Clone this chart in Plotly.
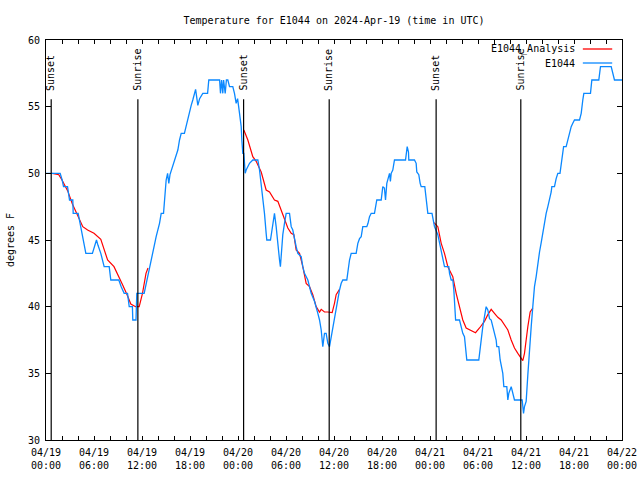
import pandas as pd
import plotly.graph_objects as go

BASE = pd.Timestamp("2024-04-19 00:00")

# Observed E1044 temperature (hours since 2024-04-19 00:00 UTC, degrees F)
obs_hours = [0, 1.77, 2.02, 2.19, 2.69, 2.85, 2.94, 3.35, 3.4, 4.02, 4.35, 4.69, 4.98, 5.8, 6.1, 6.31, 6.5, 6.85,
             7.27, 7.9, 8.1, 9.1, 9.4, 9.77, 10.19, 10.4, 10.8, 10.85, 11.25, 11.35, 12.27, 12.52, 13.15, 13.3,
             13.77, 14.19, 14.4, 14.69, 14.81, 15.02, 15.2, 15.35, 15.5, 15.85, 16.06, 16.48, 16.69, 16.9, 17.3,
             17.52, 17.73, 17.94, 18.15, 18.35, 18.56, 18.7, 18.98, 19.2, 19.6, 20.2, 20.35, 21.7, 21.81, 21.95,
             22.1, 22.2, 22.4, 22.55, 22.73, 22.94, 23.35, 23.56, 23.77, 23.95, 24.19, 24.4, 24.48, 24.6, 24.73,
             24.9, 25.02, 25.44, 25.85, 26.48, 26.69, 26.9, 27.1, 27.31, 27.52, 27.6, 28.06, 28.35, 28.56, 28.77,
             28.98, 29.19, 29.3, 29.6, 29.81, 30.02, 30.44, 30.65, 30.85, 31.06, 31.27, 31.48, 31.9, 32.1, 32.31,
             32.73, 32.94, 33.15, 33.56, 33.77, 33.98, 34.19, 34.4, 34.6, 34.81, 35.02, 35.23, 35.44, 35.65, 35.85,
             36.06, 36.27, 36.48, 36.69, 36.9, 37.1, 37.6, 37.73, 37.94, 38.15, 38.77, 38.98, 39.19, 39.4, 39.6,
             40.1, 40.25, 40.44, 40.65, 41.06, 41.27, 41.35, 41.9, 42.1, 42.3, 42.44, 42.6, 42.77, 42.94, 43.05,
             43.15, 43.35, 43.56, 44.94, 45.02, 45.15, 45.31, 45.35, 46.06, 46.27, 46.35, 46.6, 46.77, 46.9, 47.35,
             47.52, 47.73, 48.25, 48.4, 48.56, 48.98, 49.19, 49.4, 49.6, 49.81, 50.35, 50.44, 50.65, 50.85, 50.98,
             51.15, 51.2, 51.69, 51.9, 52.1, 52.31, 52.44, 52.6, 54.1, 54.19, 54.4, 54.6, 54.81, 55.02, 55.23,
             55.44, 55.65, 55.85, 56.06, 56.27, 56.35, 56.6, 56.77, 56.9, 57.1, 57.23, 57.6, 57.73, 57.85, 58.15,
             58.35, 58.56, 59.52, 59.69, 59.81, 60.02, 60.23, 60.44, 60.65, 60.85, 61.06, 61.27, 61.48, 61.69,
             61.9, 62.1, 62.31, 62.52, 62.73, 62.94, 63.15, 63.23, 63.56, 63.77, 63.98, 64.25, 64.4, 64.6, 64.7,
             65.02, 65.23, 65.44, 65.65, 65.85, 66.06, 66.69, 66.9, 67.1, 67.23, 68.06, 68.23, 69.1, 69.31, 70.65,
             70.85, 71.06, 72]
obs_temp = [50, 50, 49.5, 49, 49, 48.5, 48, 48, 47, 47, 46, 45, 44, 44, 44.6, 45, 44.6, 44,
            43, 43, 42, 42, 41.5, 41, 41, 40, 40, 39, 39, 41, 41, 41.75, 43.6, 44,
            45.25, 46.25, 47, 47, 48, 49.5, 50, 49.25, 49.9, 50.5, 51, 51.75, 52.5, 53, 53,
            53.6, 54.1, 54.5, 55.1, 55.5, 56, 56.3, 55.1, 55.6, 56, 56, 57, 57, 56, 57,
            56, 57, 56, 57, 57, 56.5, 56.5, 56, 55.25, 55.6, 54.5, 53.5, 52.5, 51.5, 51.5,
            50.0, 50.25, 50.75, 51, 51, 50.25, 49.25, 48, 47, 45.5, 45, 45, 46, 47, 46,
            44.5, 43.5, 43, 45.4, 46.25, 47, 47, 46, 45.75, 45, 44.5, 44, 43.75, 43, 42.5,
            42, 41.5, 41, 40.4, 40, 39.5, 39, 38.25, 37, 38, 38, 37.25, 37, 37.75, 38.25,
            39.25, 40, 40.75, 41.25, 41.75, 42, 42, 42.75, 43.5, 44, 44, 44.75, 45.1, 45.25, 46,
            46, 46.25, 46.75, 47, 47, 47.75, 48, 48, 49, 48.9, 48, 49.25, 49.6, 50, 49.4,
            50, 50.25, 51, 51, 51.6, 52, 51.6, 51, 51, 50.75, 50.1, 49.9, 49.25, 49, 49,
            48.25, 47, 47, 46.6, 46, 45.4, 44.75, 44, 43.5, 43, 43, 42.5, 42, 42, 41.25,
            39.75, 39, 39, 38.4, 38, 37.75, 37, 36, 36, 36.5, 37.75, 38.5, 39.25, 40, 39.75,
            39.1, 39, 38.5, 38, 37.5, 37, 37, 36, 35.5, 35, 34, 34, 33, 33.5, 34,
            33.6, 33, 33, 32, 32.5, 32.9, 34.9, 37, 38.5, 40, 41.5, 42.25, 43.25, 44.1,
            44.8, 45.6, 46.4, 47, 47.5, 48, 48.6, 49, 49, 49.6, 50, 50, 50.6, 51.5, 52,
            52, 52.5, 53.05, 53.5, 53.75, 54, 54, 54.5, 55.5, 56, 56, 57, 57, 58, 58,
            57.6, 57, 57]

# Overnight analysis (three nights)
ana1_hours = [0.8, 1.6, 2.0, 2.7, 3.3, 3.9, 4.6, 5.2, 6.0, 6.85, 7.27, 7.7, 8.5, 9.1, 9.6, 10.2, 10.6, 11.2,
              11.65, 12.06, 12.5, 12.75]
ana1_temp = [50, 49.9, 49.5, 48.7, 47.7, 46.9, 46, 45.75, 45.5, 45.05, 44.25, 43.5, 43, 42.3, 41.6, 40.8, 40.2,
             40, 40, 41, 42.5, 42.9]
ana2_hours = [24.73, 25.23, 25.85, 26.27, 26.9, 27.31, 27.52, 27.94, 28.56, 28.98, 29.4, 29.81, 30.23, 30.65,
              30.98, 31.27, 31.69, 32.1, 32.52, 32.94, 33.35, 33.77, 34.19, 34.4, 34.81, 35.23, 35.77, 36.06,
              36.27, 36.69]
ana2_temp = [53.25, 52.5, 51.25, 50.9, 50.1, 49.25, 48.75, 48.6, 48, 47.9, 47.25, 46.5, 45.9, 45.5, 45.4, 44.25,
             44, 43, 41.75, 41.5, 40.9, 40, 39.6, 39.8, 39.6, 39.6, 39.55, 40.25, 40.9, 41.3]
ana3_hours = [48.5, 48.98, 49.4, 49.81, 50.23, 50.65, 50.85, 51.27, 51.69, 52.1, 52.52, 53.15, 53.69, 54.19,
              54.81, 55.23, 55.65, 56.06, 56.48, 56.9, 57.31, 57.73, 58.15, 58.56, 58.98, 59.4, 59.6, 59.81,
              60.02, 60.23, 60.52, 60.85]
ana3_temp = [46.3, 46, 44.75, 44, 43, 42.5, 42.25, 41, 40, 39, 38.4, 38.2, 38.05, 38.4, 38.9, 39.4, 39.8, 39.5,
             39.2, 39, 38.6, 38.25, 37.5, 36.9, 36.5, 36.1, 35.95, 36.5, 37.75, 38.5, 39.6, 39.9]

sun_times = ["2024-04-19 00:39", "2024-04-19 11:29", "2024-04-20 00:42",
             "2024-04-20 11:24", "2024-04-21 00:46", "2024-04-21 11:21"]
sun_labels = ["Sunset", "Sunrise", "Sunset", "Sunrise", "Sunset", "Sunrise"]

tick_times = pd.date_range("2024-04-19 00:00", "2024-04-22 00:00", freq="6h")
tick_text = [t.strftime("%m/%d") + "<br>" + t.strftime("%H:%M") for t in tick_times]


def to_time(hours):
    return BASE + pd.to_timedelta(hours, unit="h")


FONT = "DejaVu Sans Mono"
RED = "#ff0000"
BLUE = "#0a88ff"

fig = go.Figure()
for i, (h, v) in enumerate([(ana1_hours, ana1_temp), (ana2_hours, ana2_temp), (ana3_hours, ana3_temp)]):
    fig.add_trace(go.Scatter(x=to_time(h), y=v, mode="lines", name="E1044_Analysis",
                             line=dict(color=RED, width=1.2), showlegend=False))
fig.add_trace(go.Scatter(x=to_time(obs_hours), y=obs_temp, mode="lines", name="E1044",
                         line=dict(color=BLUE, width=1.3), showlegend=False))

for t, lab in zip(sun_times, sun_labels):
    fig.add_shape(type="line", x0=t, x1=t, xref="x", yref="paper", y0=0, y1=0.852,
                  line=dict(color="black", width=1.2))
    fig.add_annotation(x=t, y=0.868, xref="x", yref="paper", text=lab, textangle=-90,
                       showarrow=False, xanchor="center", yanchor="bottom",
                       font=dict(family=FONT, size=10, color="black"))

# legend (text left of sample line, gnuplot style)
for name, col, yp in [("E1044_Analysis", RED, 0.9775), ("E1044", BLUE, 0.9425)]:
    fig.add_annotation(x=0.922, y=yp, xref="paper", yref="paper", text=name, showarrow=False,
                       xanchor="right", yanchor="middle", font=dict(family=FONT, size=10, color="black"))
    fig.add_shape(type="line", xref="paper", yref="paper", x0=0.932, x1=0.983, y0=yp, y1=yp,
                  line=dict(color=col, width=1.3))

fig.update_layout(
    width=640, height=480,
    margin=dict(l=46, r=18, t=40, b=40, autoexpand=False),
    paper_bgcolor="white", plot_bgcolor="white",
    font=dict(family=FONT, size=10, color="black"),
    title=dict(text="Temperature for E1044 on 2024-Apr-19 (time in UTC)", x=0.5, xref="paper",
               y=1 - 20 / 480, yref="container", yanchor="middle", xanchor="center",
               font=dict(family=FONT, size=10, color="black")),
    showlegend=False,
)
fig.update_xaxes(
    type="date", range=["2024-04-19 00:00", "2024-04-22 00:00"],
    tickvals=list(tick_times), ticktext=tick_text, automargin=False,
    ticks="inside", ticklen=4, tickcolor="black", tickwidth=1, ticklabelstandoff=3,
    minor=dict(dtick=2 * 3600 * 1000, ticks="inside", ticklen=4, tickcolor="black", showgrid=False),
    showline=True, linecolor="black", linewidth=1, mirror="ticks", showgrid=False, zeroline=False,
    tickfont=dict(family=FONT, size=10, color="black"),
)
fig.update_yaxes(
    range=[30, 60], dtick=5, tick0=30, automargin=False,
    ticks="inside", ticklen=5, tickcolor="black", tickwidth=1, ticklabelstandoff=3,
    showline=True, linecolor="black", linewidth=1, mirror="ticks", showgrid=False, zeroline=False,
    title=dict(text="degrees F", font=dict(family=FONT, size=10, color="black"), standoff=11),
    tickfont=dict(family=FONT, size=10, color="black"),
)

fig.write_html("out.html", config={"displayModeBar": False},
               post_script="document.body.style.margin='0px';document.body.style.padding='0px';")
